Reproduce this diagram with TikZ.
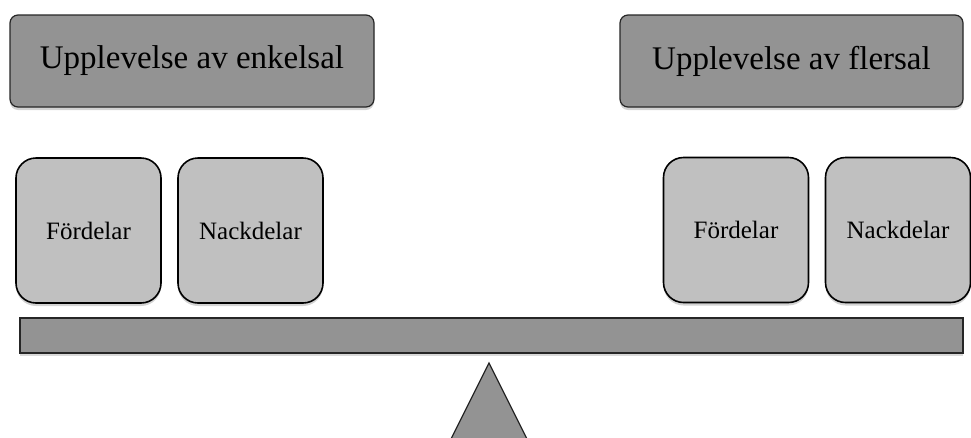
\documentclass[tikz,border=0pt]{standalone}
\usepackage{fontspec}
\setmainfont{Liberation Serif}
\usepackage{xcolor}
\usepackage{tikz}
\usetikzlibrary{shadows}

\definecolor{darkfill}{HTML}{939393}
\definecolor{lightfill}{HTML}{C0C0C0}

\begin{document}
\begin{tikzpicture}[
    x=1pt,y=1pt,
    titlebox/.style={draw=black!85,line width=1.2pt,fill=darkfill,
                     rounded corners=8pt,inner sep=0pt,
                     minimum height=92pt,font=\fontsize{33}{36}\selectfont,
                     drop shadow={shadow xshift=0pt,shadow yshift=-3pt,opacity=0.35}},
    sidebox/.style={draw=black,line width=1.6pt,fill=lightfill,
                    rounded corners=20pt,inner sep=0pt,
                    minimum width=145pt,minimum height=145pt,
                    font=\fontsize{25}{28}\selectfont,
                    drop shadow={shadow xshift=0pt,shadow yshift=-3pt,opacity=0.35}},
    beam/.style={draw=black!85,line width=1.2pt,fill=darkfill,
                 drop shadow={shadow xshift=0pt,shadow yshift=-3pt,opacity=0.3}},
    fulcrum/.style={draw=black!85,line width=1.2pt,fill=darkfill,line join=miter}
]
    % Page frame in pixels of the reference.
    \clip (0,0) rectangle (971,-437);

    % Headings for the two room types.
    \node[titlebox,minimum width=364pt] (singleTitle) at (192,-61)   {Upplevelse av enkelsal};
    \node[titlebox,minimum width=343pt] (multiTitle)  at (791.5,-61) {Upplevelse av flersal};

    % Pros and cons resting on the scale.
    \node[sidebox] (singlePros) at (88.5,-230.5)  {Fördelar};
    \node[sidebox] (singleCons) at (250.5,-230.5) {Nackdelar};
    \node[sidebox] (multiPros)  at (736,-230)     {Fördelar};
    \node[sidebox] (multiCons)  at (898,-230)     {Nackdelar};

    % The scale: beam on a triangular pivot.
    \node[beam,minimum width=943pt,minimum height=35pt,inner sep=0pt] (balance) at (491.5,-335.5) {};
    \coordinate (pivotTop) at (489,-363);
    \draw[fulcrum] (pivotTop) -- ++(-74,-148) -- ++(148,0) -- cycle;
\end{tikzpicture}
\end{document}
